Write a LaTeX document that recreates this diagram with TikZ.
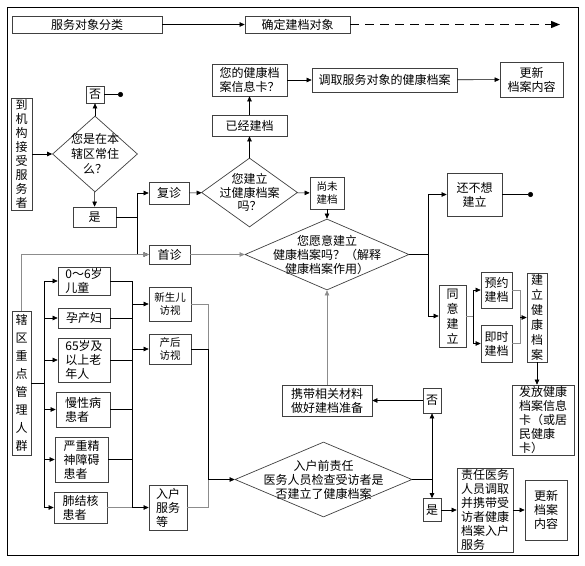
\documentclass[tikz,border=0pt]{standalone}
\usepackage{fontspec}
\setmainfont{Noto Sans CJK SC}
\usetikzlibrary{arrows.meta,shapes.geometric}

\begin{document}
\begin{tikzpicture}[x=1pt,y=-1pt,
    font=\fontsize{12}{14}\selectfont,
    box/.style={draw=black!75,line width=.7pt,inner sep=1pt,align=center},
    lbox/.style={box,align=left},
    sm/.style={font=\fontsize{10.5}{13}\selectfont},
    dia/.style={draw=black!75,line width=.7pt,diamond,inner sep=0pt},
    arr/.style={line width=.6pt,-{Triangle[length=5pt,width=4.5pt]}},
    garr/.style={arr,draw=black!45},
    gline/.style={line width=.6pt,draw=black!45},
    bline/.style={line width=.6pt},
    dotend/.style={line width=.6pt,-{Circle[length=5pt]}}]
        \useasboundingbox (0,0) rectangle (585,565);
        \draw[line width=.8pt] (7,7) rectangle (578,555);
        % top row
        \node[box,minimum width=150,minimum height=17] (cls) at (87,24.5) {服务对象分类};
        \node[box,minimum width=105,minimum height=17] (fix) at (297.5,24.5) {确定建档对象};
        \coordinate (fixend) at (560,24.5);
        % clinic visitors
        \node[box,minimum width=21,minimum height=112] (recv) at (21.5,154) {到\\机\\构\\接\\受\\服\\务\\者};
        \node[dia,minimum width=85,minimum height=76] (res) at (95,154) {};
        \node[align=center,font=\fontsize{12}{15}\selectfont] (rest) at (res) {您是在本\\辖区常住\\么？};
        \node[box,minimum width=18,minimum height=17] (resno) at (95,94.5) {否};
        \coordinate (resdot) at (123,94.5);
        \node[box,minimum width=43,minimum height=20] (resyes) at (94.5,217) {是};
        \coordinate (jyes) at (137,217);
        \node[box,minimum width=40,minimum height=22] (revisit) at (169,193) {复诊};
        \node[box,minimum width=41,minimum height=19] (first) at (169.5,254.5) {首诊};
        \node[dia,minimum width=96,minimum height=69] (had) at (249.5,192.5) {};
        \node[align=center,font=\fontsize{12}{13.5}\selectfont] (hadt) at (had) {您建立\\过健康档案\\吗？};
        \node[box,minimum width=75,minimum height=21] (built) at (249.5,125.5) {已经建档};
        \node[box,minimum width=75,minimum height=32] (card) at (249.5,80) {您的健康档\\案信息卡？};
        \node[box,minimum width=145,minimum height=24] (fetch) at (384.5,80) {调取服务对象的健康档案};
        \node[box,minimum width=63,minimum height=35] (upd) at (531.5,79.5) {更新\\档案内容};
        \node[box,sm,minimum width=34,minimum height=32] (notyet) at (327,193) {尚未\\建档};
        \node[dia,minimum width=164,minimum height=71] (will) at (327,254.5) {};
        \node[align=center] (willt) at (will) {您愿意建立\\健康档案吗？（解释\\健康档案作用）};
        \coordinate (jwill) at (428,254.5);
        \node[box,minimum width=55,minimum height=43] (refuse) at (474.5,194.5) {还不想\\建立};
        \coordinate (refdot) at (533,194.5);
        \node[box,minimum width=27,minimum height=62,font=\fontsize{12}{15}\selectfont] (agree) at (452.5,316) {同\\意\\建\\立};
        \coordinate (jagree) at (473,316);
        \node[box,minimum width=31,minimum height=36] (appt) at (496.5,290) {预约\\建档};
        \node[box,minimum width=31,minimum height=37] (now) at (496.5,343.5) {即时\\建档};
        \coordinate (jest) at (520,317.5);
        \node[box,minimum width=20,minimum height=89,font=\fontsize{12}{15}\selectfont] (est) at (537,317.5) {建\\立\\健\\康\\档\\案};
        \node[lbox,minimum width=62,minimum height=70] (issue) at (543,420) {发放健康\\档案信息\\卡（或居\\民健康\\卡）};
        % home visits
        \node[box,minimum width=90,minimum height=31] (carry) at (327,400.5) {携带相关材料\\做好建档准备};
        \node[dia,minimum width=177,minimum height=75] (check) at (323.5,479.5) {};
        \node[align=center] (checkt) at (check) {入户前责任\\医务人员检查受访者是\\否建立了健康档案};
        \coordinate (jcheck) at (432,479.5);
        \node[box,minimum width=18,minimum height=25] (chno) at (432,400.5) {否};
        \node[box,minimum width=18,minimum height=23] (chyes) at (432,510) {是};
        \node[lbox,minimum width=56,minimum height=84] (take) at (485,510) {责任医务\\人员调取\\并携带受\\访者健康\\档案入户\\服务};
        \node[box,minimum width=42,minimum height=60] (upd2) at (546,510) {更新\\档案\\内容};
        % key groups
        \node[box,minimum width=19,minimum height=144,font=\fontsize{12}{18}\selectfont] (key) at (21.5,383) {辖\\区\\重\\点\\管\\理\\人\\群};
        \coordinate (jkey) at (44,383);
        \node[lbox,minimum width=52,minimum height=28] (g1) at (84,281) {0～6岁\\儿童};
        \node[lbox,minimum width=52,minimum height=20] (g2) at (84,318) {孕产妇};
        \node[lbox,minimum width=52,minimum height=44] (g3) at (84,360) {65岁及\\以上老\\年人};
        \node[lbox,minimum width=54,minimum height=35] (g4) at (83,409.5) {慢性病\\患者};
        \node[lbox,minimum width=53,minimum height=45] (g5) at (81.5,459.5) {严重精\\神障碍\\患者};
        \node[lbox,minimum width=53,minimum height=31] (g6) at (80.5,507.5) {肺结核\\患者};
        \coordinate (jgrp) at (132,400);
        \node[box,sm,minimum width=42,minimum height=34] (newborn) at (170,304) {新生儿\\访视};
        \node[box,sm,minimum width=42,minimum height=30] (postnatal) at (170,349) {产后\\访视};
        \node[lbox,minimum width=38,minimum height=45] (home) at (168,507.5) {入户\\服务\\等};
        \coordinate (jvisit) at (208,479.5);

        % connectors
        \draw[arr] (cls) -- (fix);
        \draw[line width=1.3pt,dash pattern=on 9pt off 6pt,-{Triangle[length=9pt,width=7pt]}] (fix) -- (fixend);
        \draw[arr] (recv) -- (res);
        \draw[arr] (res) -- (resno);
        \draw[dotend] (resno) -- (resdot);
        \draw[arr] (res) -- (resyes);
        \draw[bline] (resyes) -- (jyes);
        \draw[arr] (jyes) |- (revisit);
        \draw[arr] (jyes) |- (first);
        \draw[garr] (key) |- (first);
        \draw[arr] (revisit) -- (had);
        \draw[arr] (had) -- (built);
        \draw[arr] (built) -- (card);
        \draw[arr] (card) -- (fetch);
        \draw[arr] (fetch) -- (upd);
        \draw[arr] (had) -- (notyet);
        \draw[arr] (notyet) -- (will);
        \draw[garr] (first) -- (will);
        \draw[bline] (will) -- (jwill);
        \draw[arr] (jwill) |- (refuse);
        \draw[arr] (jwill) |- (agree);
        \draw[dotend] (refuse) -- (refdot);
        \draw[gline] (agree) -- (jagree);
        \draw[arr] (jagree) |- (appt);
        \draw[arr] (jagree) |- (now);
        \draw[gline] (appt) -| (jest);
        \draw[gline] (now) -| (jest);
        \draw[arr] (jest) -- (est);
        \draw[arr] (est.south) -- (est.south |- issue.north);
        \draw[bline] (check) -- (jcheck);
        \draw[arr] (jcheck) -- (chno);
        \draw[arr] (jcheck) -- (chyes);
        \draw[arr] (chno) -- (carry);
        \draw[garr] (carry) -- (will);
        \draw[arr] (chyes) -- (take);
        \draw[arr] (take) -- (upd2);
        \draw[bline] (key) -- (jkey);
        \foreach \i in {1,...,6}
          \draw[arr] (jkey) |- (g\i);
        \foreach \i in {1,...,5}
          \draw[bline] (g\i.east) -- (g\i.east -| jgrp);
        \draw[gline] (g6.east) -- (g6.east -| jgrp);
        \draw[bline] (g1.east -| jgrp) -- (g6.east -| jgrp);
        \draw[arr] (newborn.west -| jgrp) -- (newborn);
        \draw[arr] (postnatal.west -| jgrp) -- (postnatal);
        \draw[arr] (home.west -| jgrp) -- (home);
        \draw[gline] (newborn) -| (jvisit);
        \draw[bline] (postnatal) -| (jvisit);
        \draw[gline] (home) -| (jvisit);
        \draw[arr] (jvisit) -- (check);
\end{tikzpicture}
\end{document}
